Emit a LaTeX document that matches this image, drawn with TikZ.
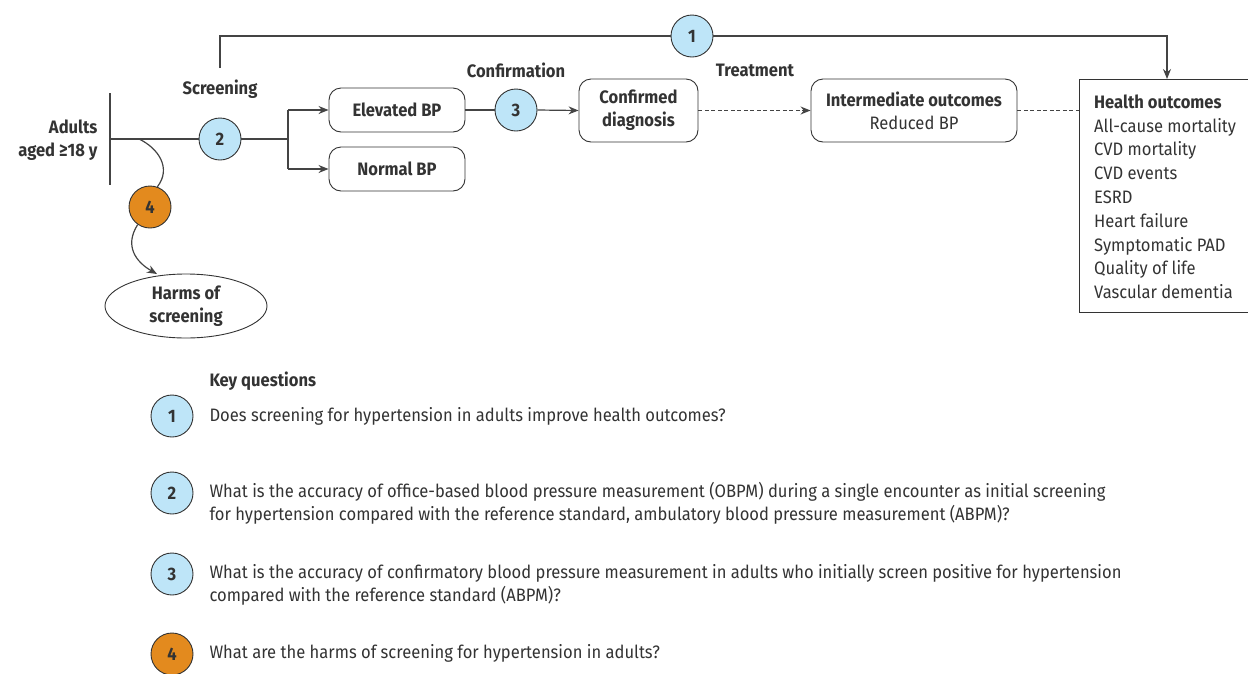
\documentclass[tikz,border=0pt]{standalone}
\usepackage{fontspec}
\setmainfont{Fira Sans}[FakeStretch=0.92]
\usetikzlibrary{arrows.meta,shapes.geometric}
\definecolor{txt}{HTML}{333333}
\definecolor{ln}{HTML}{444444}
\definecolor{kqblue}{HTML}{BEE5F8}
\definecolor{kqorange}{HTML}{E38A1E}
\begin{document}
\begin{tikzpicture}[x=1pt,y=-1pt,
  every node/.style={text=txt,font=\fontsize{18}{23}\selectfont},
  kq/.style={circle,draw=txt,line width=0.9pt,fill=kqblue,minimum size=42pt,inner sep=0pt,font=\fontsize{18}{23}\selectfont\bfseries},
  kqo/.style={kq,fill=kqorange},
  rbox/.style={draw=txt,line width=0.9pt,rounded corners=12pt,align=center,inner sep=0pt,font=\fontsize{18}{23}\selectfont\bfseries},
  lbl/.style={font=\fontsize{18}{23}\selectfont\bfseries},
  conn/.style={draw=ln,line width=1.2pt},
  tip/.style={-{Stealth[length=10pt,width=8pt]}},
  arr/.style={conn,tip},
  dconn/.style={conn,line width=1.1pt,dash pattern=on 4pt off 2.5pt},
  qtext/.style={anchor=west,align=left,font=\fontsize{18}{23}\selectfont}
]
\useasboundingbox (0,0) rectangle (1248,673);

% top labels
\node[lbl] (lscr) at (220,89) {Screening};
\node[lbl] (lconf) at (516,70) {Confirmation};
\node[lbl] (ltreat) at (755,70) {Treatment};

% adults
\node[lbl,align=right,anchor=east] (adults) at (101,140) {Adults\\aged ≥18 y};
\coordinate (bartop) at (110,93);
\coordinate (barbot) at (110,185);
\draw[conn] (bartop) -- (barbot);
\coordinate (barmid) at (110,139);
\coordinate (branch) at (288,139);
\coordinate (brtop) at (288,110);
\coordinate (brbot) at (288,169);

% boxes
\node[rbox,minimum width=136pt,minimum height=44pt] (elev) at (397,110) {Elevated BP};
\node[rbox,minimum width=136pt,minimum height=44pt] (norm) at (397,169) {Normal BP};
\node[rbox,minimum width=119pt,minimum height=63pt] (conf) at (638.5,110.5) {Confirmed\\diagnosis};
\node[rbox,minimum width=206pt,minimum height=63pt] (inter) at (914,110.5) {Intermediate outcomes\\\mdseries Reduced BP};
\node[draw=txt,line width=0.9pt,minimum width=175pt,minimum height=233pt,inner sep=0pt,anchor=north west] (health) at (1079,79) {};
\node[anchor=north west,align=left,inner sep=0pt,font=\fontsize{18}{23.8}\selectfont] (htext) at (1094,94.5) {\textbf{Health outcomes}\\All-cause mortality\\CVD mortality\\CVD events\\ESRD\\Heart failure\\Symptomatic PAD\\Quality of life\\Vascular dementia};

% circles
\node[kq] (c1) at (692,36) {1};
\node[kq] (c2) at (220,139) {2};
\node[kq] (c3) at (516,110) {3};
\node[kqo] (c4) at (150,207) {4};

% harms ellipse
\node[ellipse,draw=txt,line width=0.9pt,minimum width=162pt,minimum height=64pt,inner sep=0pt,align=center,font=\fontsize{18}{23}\selectfont\bfseries] (harms) at (186,306) {Harms of\\screening};

% connectors
\coordinate (toplt) at (220,36);
\coordinate (topst) at (220,68);
\coordinate (toprt) at (1167,36);
\draw[conn] (topst) -- (toplt) -- (c1.west);
\draw[arr] (c1.east) -- (toprt) -- (health.north -| toprt);

\draw[conn] (barmid) -- (c2.west);
\draw[conn] (c2.east) -- (branch);
\draw[conn] (brtop) -- (brbot);
\draw[arr] (brtop) -- (elev.west);
\draw[arr] (brbot) -- (norm.west);
\draw[conn] (elev.east) -- (c3.west);
\draw[arr] (c3.east) -- (conf.west);
\draw[dconn,tip] (conf.east) -- (inter.west);
\draw[dconn] (inter.east) -- (inter.east -| health.west);

\coordinate (cstart) at (139,139);
\coordinate (harmin) at (157,274);
\draw[conn] (cstart) .. controls (158,148) and (172,168) .. (c4.70);
\draw[arr] (c4.235) .. controls (124,246) and (136,262) .. (harmin);

% key questions
\node[lbl,anchor=west] (kqt) at (206,381) {Key questions};
\node[kq] (k1) at (172,416) {1};
\node[kq] (k2) at (172,493) {2};
\node[kq] (k3) at (172,574) {3};
\node[kqo] (k4) at (172,654) {4};
\node[qtext] (q1) at (206,416) {Does screening for hypertension in adults improve health outcomes?};
\node[qtext] (q2) at (206,503.5) {What is the accuracy of office-based blood pressure measurement (OBPM) during a single encounter as initial screening\\for hypertension compared with the reference standard, ambulatory blood pressure measurement (ABPM)?};
\node[qtext] (q3) at (206,584.5) {What is the accuracy of confirmatory blood pressure measurement in adults who initially screen positive for hypertension\\compared with the reference standard (ABPM)?};
\node[qtext] (q4) at (206,653) {What are the harms of screening for hypertension in adults?};
\end{tikzpicture}
\end{document}
